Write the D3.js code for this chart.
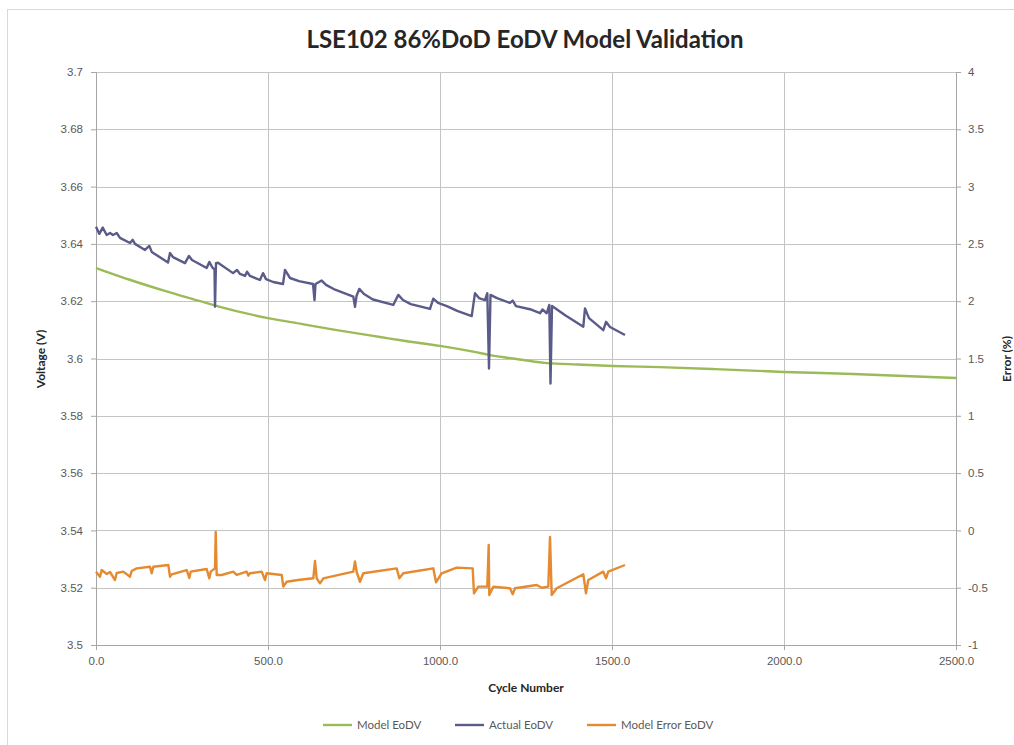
<!DOCTYPE html>
<html>
<head>
<meta charset="utf-8">
<script src="https://cdn.jsdelivr.net/npm/d3@7"></script>
<style>
  body { margin: 0; background: #fff; }
  svg { font-family: Lato, "Open Sans", sans-serif; }
</style>
</head>
<body>
<svg id="chart" width="1014" height="745"></svg>
<script>
// cycle / voltage pairs
const modelCycles = [0, 100, 200, 300, 360, 500, 600, 700, 826, 900, 1000, 1100, 1145, 1200, 1311, 1400, 1503, 1640, 1800, 2000, 2200, 2500];
const modelEoDV = [3.6316, 3.6274, 3.6236, 3.6201, 3.6180, 3.6141, 3.6120, 3.6099, 3.6075, 3.6061, 3.6044, 3.6023, 3.6012, 3.6002, 3.5984, 3.5979, 3.5974, 3.5970, 3.5963, 3.5953, 3.5946, 3.5932];

const actualCycles = [0, 9.6, 19.5, 31.1, 40.7, 49.4, 60.2, 69.8, 98.8, 106.7, 113.4, 142.4, 155, 162, 209.3, 215.1, 223.8, 258.7, 270.3, 279.1,
  321.8, 329.4, 339.2, 344.5, 346, 348.8, 354.7, 398.3, 409.9, 418.6, 433.1, 438.9, 447.7, 476.7, 485.5, 494.2, 515, 543.6, 549.4, 564, 590, 630.8,
  635.2, 638.1, 656.1, 668.6, 695, 748, 752.9, 757.3, 765.4, 779.1, 805, 864.2, 878.8, 892.4, 915, 971, 980.5, 994.2, 1020, 1050, 1092.2, 1101.7, 1113.4, 1130.8, 1137.5,
  1142.4, 1146.8, 1165.7, 1203.5, 1211.3, 1220.9, 1261.6, 1290.7, 1298, 1310.2, 1317.7, 1321.2, 1325.6, 1340.1, 1365, 1416.6, 1421.5, 1433.1, 1474.7, 1482.6, 1494.2,
  1537.8];
const actualEoDV = [3.6460, 3.6435, 3.6457, 3.6431, 3.6438, 3.6431, 3.6438, 3.6421, 3.6403, 3.6414, 3.6400, 3.6379, 3.6393, 3.6372, 3.6335, 3.6368, 3.6354, 3.6333, 3.6358, 3.6344,
  3.6316, 3.6337, 3.6316, 3.6312, 3.6181, 3.6333, 3.6334, 3.6298, 3.6309, 3.6295, 3.6288, 3.6303, 3.6288, 3.6274, 3.6298, 3.6277, 3.6267, 3.6260, 3.6309, 3.6281, 3.6270, 3.6260,
  3.6204, 3.6260, 3.6272, 3.6257, 3.6240, 3.6216, 3.6180, 3.6218, 3.6243, 3.6225, 3.6206, 3.6187, 3.6222, 3.6204, 3.6190, 3.6173, 3.6209, 3.6194, 3.6183, 3.6166, 3.6148, 3.6228, 3.6211, 3.6204, 3.6228,
  3.5965, 3.6222, 3.6211, 3.6194, 3.6202, 3.6183, 3.6172, 3.6158, 3.6171, 3.6158, 3.6187, 3.5913, 3.6183, 3.6171, 3.6150, 3.6111, 3.6175, 3.6141, 3.6099, 3.6128, 3.6110,
  3.6082];

const errorCycles = [0, 11.6, 16.6, 31.1, 40.7, 55.2, 60.2, 79.4, 98.8, 103.8, 118.3, 157, 162, 166.6, 210.2, 215.1, 220, 263.7, 271.2, 275.3,
  321.8, 329.4, 333.4, 346, 348, 350.9, 365.4, 399.1, 409, 438, 442.7, 447.7, 481.7, 491.3, 496.2, 539.8, 544.5, 554.4, 587.2, 631.7,
  636.6, 641.6, 651.2, 660.8, 748, 752.9, 757.8, 767.4, 777, 874.1, 881.7, 893.3, 980.5, 988.4, 1004.9, 1048.5, 1095, 1098.8, 1111.3, 1130.8,
  1137.5, 1141.6, 1143.3, 1154.9, 1203.5, 1211.3, 1218, 1281.1, 1295.6, 1314.8, 1319.8, 1324.7, 1339.2, 1416.6, 1424.4, 1431.1, 1474.7, 1482.6, 1489.2, 1537.8];
const errorEoDV = [-0.360, -0.404, -0.346, -0.380, -0.363, -0.433, -0.372, -0.360, -0.404, -0.354, -0.331, -0.317, -0.374, -0.317, -0.302, -0.404, -0.383, -0.346, -0.415, -0.360,
  -0.337, -0.418, -0.360, -0.331, -0.014, -0.389, -0.389, -0.360, -0.389, -0.360, -0.395, -0.374, -0.360, -0.433, -0.374, -0.389, -0.491, -0.448, -0.433, -0.418,
  -0.267, -0.418, -0.462, -0.418, -0.360, -0.270, -0.363, -0.448, -0.374, -0.331, -0.418, -0.374, -0.331, -0.453, -0.374, -0.325, -0.331, -0.549, -0.491, -0.491,
  -0.491, -0.127, -0.564, -0.491, -0.505, -0.558, -0.505, -0.476, -0.500, -0.491, -0.058, -0.564, -0.505, -0.383, -0.549, -0.433, -0.360, -0.418, -0.360, -0.302];

const xTicks = [0, 500, 1000, 1500, 2000, 2500];
const voltTicks = [3.5, 3.52, 3.54, 3.56, 3.58, 3.6, 3.62, 3.64, 3.66, 3.68, 3.7];
const errTicks = [-1, -0.5, 0, 0.5, 1, 1.5, 2, 2.5, 3, 3.5, 4];

const seriesNames = ["Model EoDV", "Actual EoDV", "Model Error EoDV"];
const colors = ["#9bbb59", "#5b5b8a", "#e58a2f"];

const margin = { top: 72, right: 58, bottom: 100, left: 96 };
const W = 1014, H = 745;
const width = W - margin.left - margin.right;
const height = H - margin.top - margin.bottom;

const svg = d3.select("#chart");

// chart area border
svg.append("rect")
  .attr("x", 7.5).attr("y", 9.5)
  .attr("width", 1020).attr("height", 760)
  .attr("fill", "none").attr("stroke", "#d9d9d9");

const g = svg.append("g").attr("transform", `translate(${margin.left},${margin.top})`);

const x = d3.scaleLinear().domain([0, 2500]).range([0, width]);
const yV = d3.scaleLinear().domain([3.5, 3.7]).range([height, 0]);
const yE = d3.scaleLinear().domain([-1, 4]).range([height, 0]);

// gridlines
g.append("g")
  .selectAll("line")
  .data(voltTicks)
  .join("line")
  .attr("x1", 0).attr("x2", width)
  .attr("y1", d => Math.round(yV(d)) + 0.5).attr("y2", d => Math.round(yV(d)) + 0.5)
  .attr("stroke", "#c4c4c4");

g.append("g")
  .selectAll("line")
  .data(xTicks)
  .join("line")
  .attr("y1", 0).attr("y2", height)
  .attr("x1", d => Math.round(x(d)) + 0.5).attr("x2", d => Math.round(x(d)) + 0.5)
  .attr("stroke", "#c4c4c4");

// axes
const styleAxis = sel => {
  sel.select(".domain").attr("stroke", "#a6a6a6");
  sel.selectAll(".tick line").attr("stroke", "#a6a6a6");
  sel.selectAll(".tick text").attr("fill", "#595959").style("font-size", "11.5px");
};

g.append("g")
  .attr("transform", `translate(0,${height})`)
  .call(d3.axisBottom(x).tickValues(xTicks).tickFormat(d3.format(".1f")).tickSize(5).tickPadding(7))
  .call(styleAxis);

g.append("g")
  .call(d3.axisLeft(yV).tickValues(voltTicks).tickFormat(d => String(+d.toFixed(2))).tickSize(5).tickPadding(8))
  .call(styleAxis);

g.append("g")
  .attr("transform", `translate(${width},0)`)
  .call(d3.axisRight(yE).tickValues(errTicks).tickFormat(d => String(d)).tickSize(5).tickPadding(7))
  .call(styleAxis);

// lines
const lineV = d3.line().x(d => x(d[0])).y(d => yV(d[1]));
const lineE = d3.line().x(d => x(d[0])).y(d => yE(d[1]));

g.append("path")
  .datum(d3.zip(modelCycles, modelEoDV))
  .attr("d", d3.line().x(d => x(d[0])).y(d => yV(d[1])).curve(d3.curveMonotoneX))
  .attr("fill", "none").attr("stroke", colors[0]).attr("stroke-width", 2.4);

g.append("path")
  .datum(d3.zip(actualCycles, actualEoDV))
  .attr("d", lineV)
  .attr("fill", "none").attr("stroke", colors[1]).attr("stroke-width", 2.4)
  .attr("stroke-linejoin", "round");

g.append("path")
  .datum(d3.zip(errorCycles, errorEoDV))
  .attr("d", lineE)
  .attr("fill", "none").attr("stroke", colors[2]).attr("stroke-width", 2.4)
  .attr("stroke-linejoin", "round");

// titles
svg.append("text")
  .attr("x", 525).attr("y", 48)
  .attr("text-anchor", "middle")
  .style("font-size", "24px").style("font-weight", "bold").attr("fill", "#262626")
  .text("LSE102 86%DoD EoDV Model Validation");

svg.append("text")
  .attr("x", 526).attr("y", 692)
  .attr("text-anchor", "middle")
  .style("font-size", "12px").style("font-weight", "bold").attr("fill", "#262626")
  .text("Cycle Number");

svg.append("text")
  .attr("transform", "translate(45,359) rotate(-90)")
  .attr("text-anchor", "middle")
  .style("font-size", "12px").style("font-weight", "bold").attr("fill", "#262626")
  .text("Voltage (V)");

svg.append("text")
  .attr("transform", "translate(1011,359) rotate(-90)")
  .attr("text-anchor", "middle")
  .style("font-size", "12px").style("font-weight", "bold").attr("fill", "#262626")
  .text("Error (%)");

// legend
const legendX = [323, 455, 587];
const legend = svg.append("g").attr("transform", "translate(0,725)");
const items = legend.selectAll("g")
  .data(seriesNames)
  .join("g")
  .attr("transform", (d, i) => `translate(${legendX[i]},0)`);
items.append("line")
  .attr("x1", 0).attr("x2", 29)
  .attr("stroke", (d, i) => colors[i]).attr("stroke-width", 2.4);
items.append("text")
  .attr("x", 34).attr("y", 4)
  .style("font-size", "11.5px").attr("fill", "#595959")
  .text(d => d);
</script>
</body>
</html>
